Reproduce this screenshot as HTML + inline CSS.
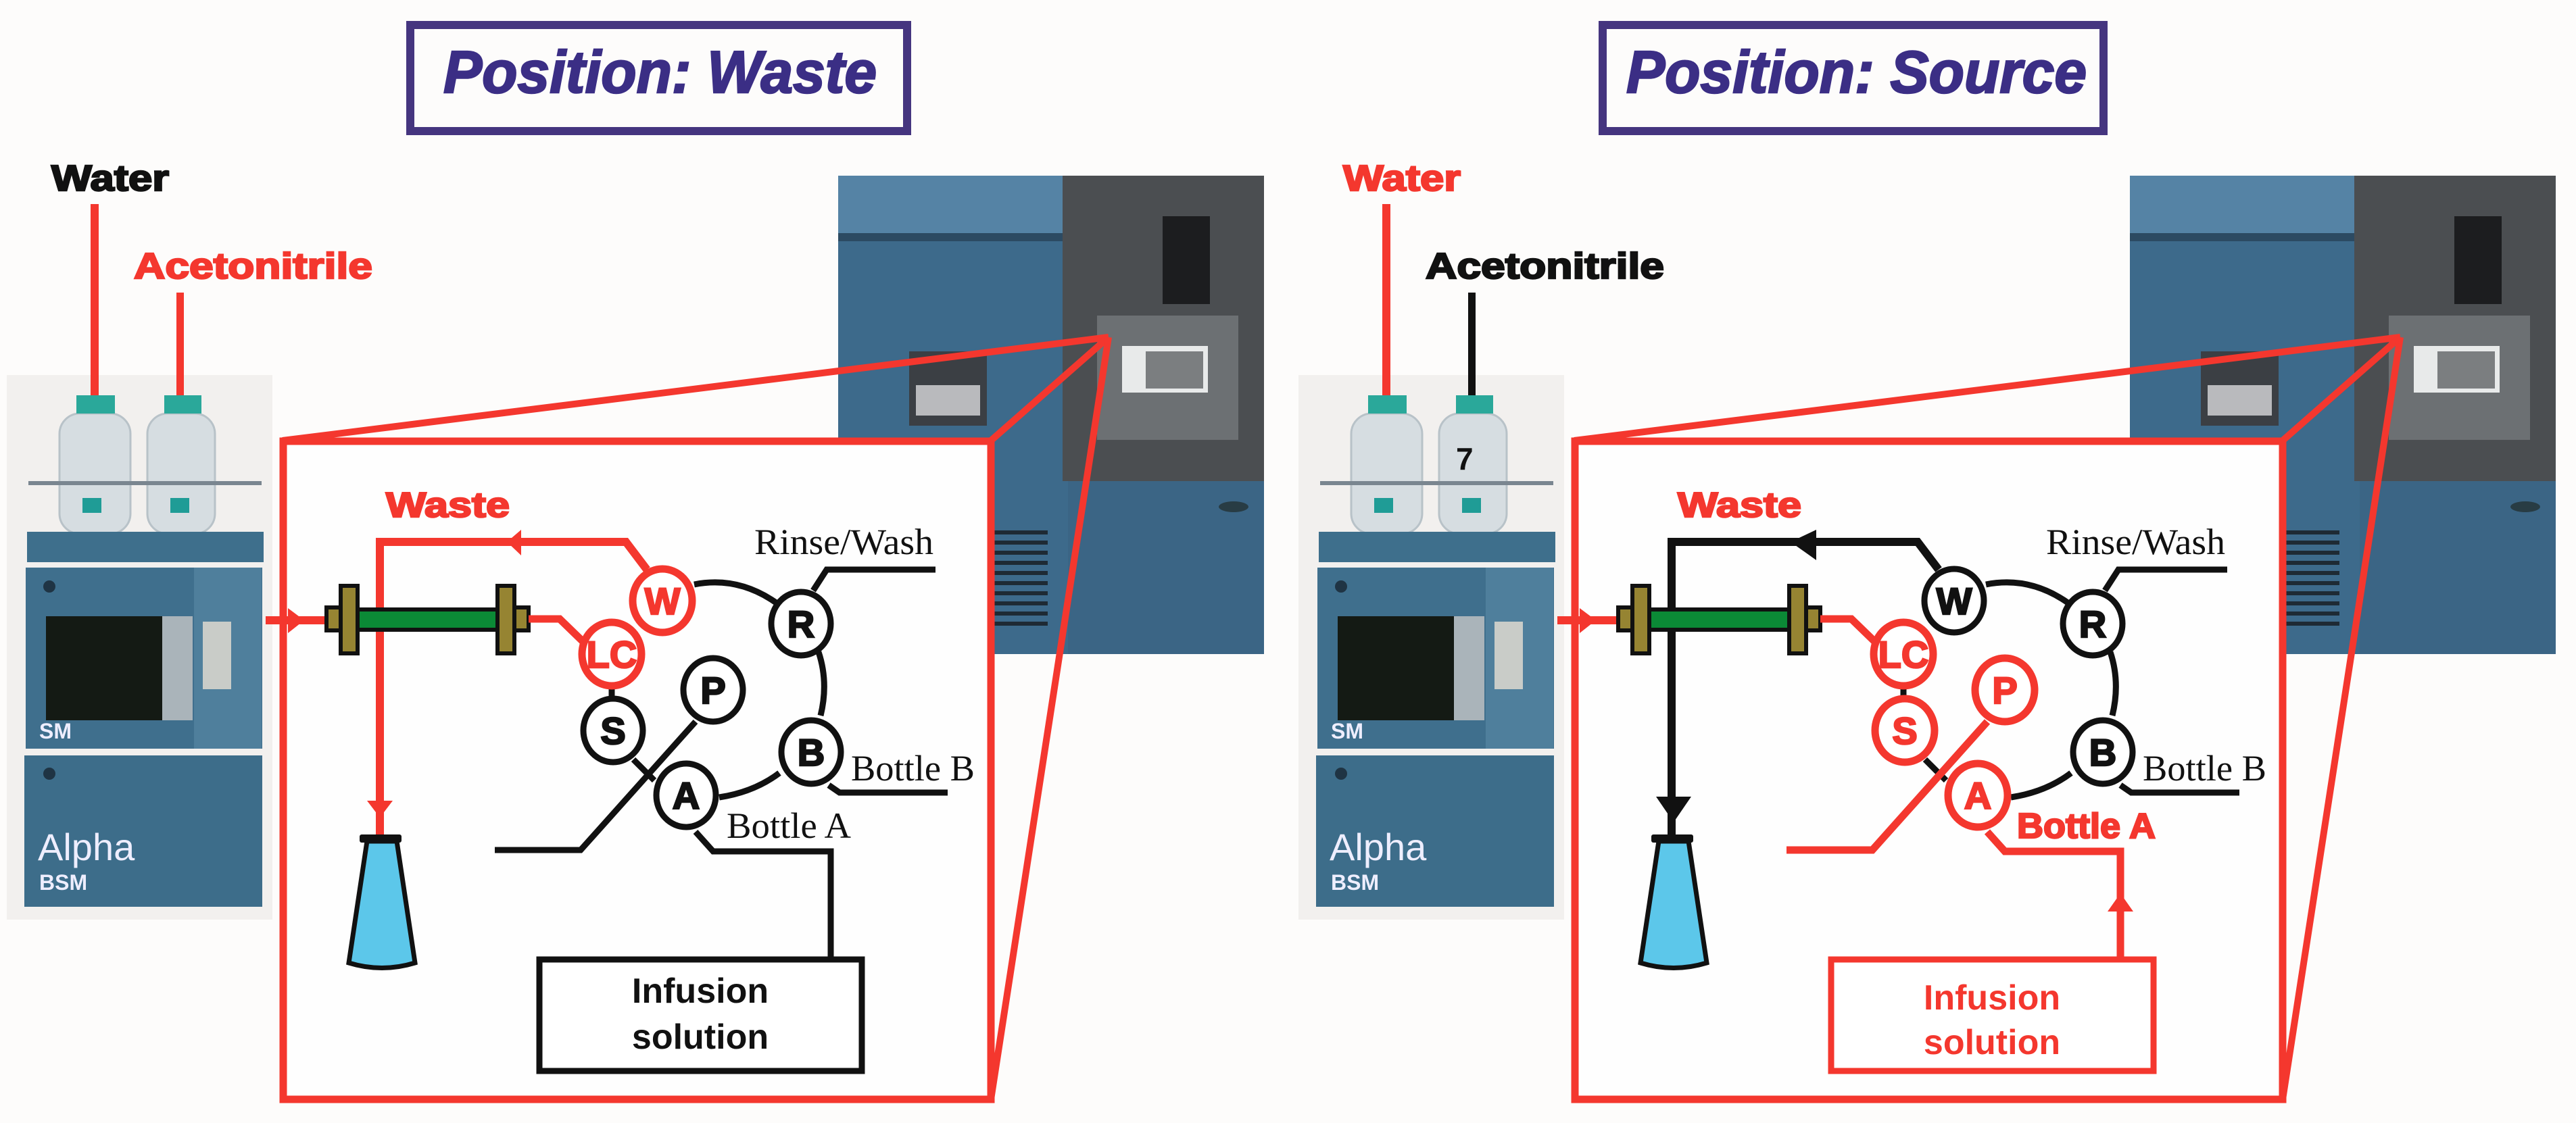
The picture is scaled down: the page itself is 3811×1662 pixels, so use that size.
<!DOCTYPE html>
<html><head><meta charset="utf-8"><style>
html,body{margin:0;padding:0;background:#fdfcfb;}
svg{display:block;}
.sb{font-family:"Liberation Sans",sans-serif;font-weight:bold;}
.sf{font-family:"Liberation Serif",serif;}
.hv{stroke-width:2.5;paint-order:stroke;}
</style></head><body>
<svg width="3811" height="1662" viewBox="0 0 3811 1662" xmlns="http://www.w3.org/2000/svg">
<defs>
<g id="lcphoto">
  <rect x="10" y="555" width="393" height="806" fill="#f2f0ee"/>
  <rect x="88" y="612" width="105" height="178" rx="30" fill="#d6dde1" stroke="#b8c2c8" stroke-width="3"/>
  <rect x="218" y="612" width="100" height="178" rx="30" fill="#d6dde1" stroke="#b8c2c8" stroke-width="3"/>
  <rect x="113" y="585" width="57" height="27" fill="#2aa89a"/>
  <rect x="243" y="585" width="55" height="27" fill="#2aa89a"/>
  <rect x="122" y="737" width="28" height="22" fill="#1f9c96"/>
  <rect x="252" y="737" width="28" height="22" fill="#1f9c96"/>
  <rect x="42" y="712" width="345" height="6" fill="#7a8690"/>
  <rect x="40" y="787" width="350" height="45" fill="#3e6f8c"/>
  <rect x="38" y="840" width="350" height="268" fill="#3f6f8d"/>
  <rect x="68" y="912" width="172" height="154" fill="#141a14"/>
  <rect x="240" y="912" width="45" height="154" fill="#aab4ba"/>
  <rect x="287" y="840" width="100" height="268" fill="#4f7f9c"/>
  <rect x="300" y="920" width="42" height="100" fill="#c9ccc8"/>
  <circle cx="73" cy="868" r="9" fill="#1f3444"/>
  <text x="58" y="1093" class="sb" font-size="32" fill="#eef">SM</text>
  <rect x="36" y="1118" width="352" height="224" fill="#3d6d8a"/>
  <circle cx="73" cy="1145" r="9" fill="#1f3444"/>
  <text x="56" y="1273" font-family="Liberation Sans, sans-serif" font-size="56" fill="#eef">Alpha</text>
  <text x="58" y="1317" class="sb" font-size="32" fill="#eef">BSM</text>
</g>
<g id="msphoto">
  <rect x="1240" y="260" width="630" height="708" fill="#3d6a8b"/>
  <rect x="1240" y="260" width="332" height="85" fill="#5583a5"/>
  <rect x="1240" y="345" width="332" height="12" fill="#2c4a62"/>
  <rect x="1572" y="260" width="298" height="452" fill="#4b4e51"/>
  <rect x="1720" y="320" width="70" height="130" fill="#1c1d1f"/>
  <rect x="1623" y="467" width="209" height="184" fill="#6c7073"/>
  <rect x="1660" y="512" width="127" height="69" fill="#e8eaea"/>
  <rect x="1695" y="520" width="85" height="55" fill="#7b7e80"/>
  <rect x="1345" y="520" width="115" height="110" fill="#3b3f44"/>
  <rect x="1355" y="570" width="95" height="45" fill="#b9babd"/>
  <g fill="#1e2a34"><rect x="1467" y="785" width="83" height="6"/><rect x="1467" y="800" width="83" height="6"/><rect x="1467" y="815" width="83" height="6"/><rect x="1467" y="830" width="83" height="6"/><rect x="1467" y="845" width="83" height="6"/><rect x="1467" y="860" width="83" height="6"/><rect x="1467" y="875" width="83" height="6"/><rect x="1467" y="890" width="83" height="6"/><rect x="1467" y="905" width="83" height="6"/><rect x="1467" y="920" width="83" height="6"/></g>
  <rect x="1580" y="712" width="290" height="256" fill="#3b6585"/>
  <ellipse cx="1825" cy="750" rx="22" ry="8" fill="#283c44"/>
</g>
<g id="column">
  <rect x="529" y="902" width="207" height="30" fill="#0b8a36" stroke="#111" stroke-width="6"/>
  <rect x="483" y="899" width="21" height="34" fill="#968432" stroke="#111" stroke-width="6"/>
  <rect x="504" y="867" width="25" height="100" fill="#968432" stroke="#111" stroke-width="6"/>
  <rect x="736" y="867" width="25" height="100" fill="#968432" stroke="#111" stroke-width="6"/>
  <rect x="761" y="899" width="21" height="34" fill="#968432" stroke="#111" stroke-width="6"/>
</g>
<g id="flask">
  <path d="M543 1245 L587 1245 L614 1425 Q565 1440 516 1425 Z" fill="#5cc7ea" stroke="#111" stroke-width="7"/>
  <rect x="532" y="1235" width="62" height="12" rx="3" fill="#111"/>
</g>
</defs>

<!-- ============ LEFT PANEL ============ -->
<rect x="607" y="37" width="735" height="157" fill="none" stroke="#45357f" stroke-width="12"/>
<text x="656" y="137" class="sb hv" font-style="italic" font-size="88" fill="#3b2e85" stroke="#3b2e85" textLength="641" lengthAdjust="spacingAndGlyphs">Position: Waste</text>
<text x="76" y="282" class="sb hv" font-size="54" fill="#111" stroke="#111" textLength="174" lengthAdjust="spacingAndGlyphs">Water</text>
<text x="198" y="412" class="sb hv" font-size="54" fill="#f4372e" stroke="#f4372e" textLength="353" lengthAdjust="spacingAndGlyphs">Acetonitrile</text>
<use href="#lcphoto"/>
<rect x="134" y="302" width="12" height="283" fill="#f4372e"/>
<rect x="261" y="433" width="11" height="152" fill="#f4372e"/>
<use href="#msphoto"/>
<g stroke="#f4372e" stroke-width="10" fill="none">
  <line x1="418" y1="652" x2="1640" y2="499"/>
  <line x1="1466" y1="652" x2="1640" y2="499"/>
  <line x1="1466" y1="1627" x2="1640" y2="499"/>
</g>
<rect x="419" y="653" width="1047" height="974" fill="#fefefe" stroke="#f4372e" stroke-width="11"/>
<line x1="393" y1="918" x2="483" y2="918" stroke="#f4372e" stroke-width="12"/>
<polygon points="426,900 450,918 426,937" fill="#f4372e"/>
<g stroke="#f4372e" stroke-width="12" fill="none">
  <polyline points="957,843 926,802 562,802 562,1190"/>
  <line x1="562" y1="1200" x2="562" y2="1236"/>
</g>
<polygon points="750,802 771,784 771,822" fill="#f4372e"/>
<polygon points="543,1185 581,1185 562,1210" fill="#f4372e"/>
<use href="#column"/>
<use href="#flask"/>
<text x="571" y="765" class="sb hv" font-size="52" fill="#f4372e" stroke="#f4372e" textLength="183" lengthAdjust="spacingAndGlyphs">Waste</text>
<polyline points="782,916 828,916 862,949" fill="none" stroke="#f4372e" stroke-width="11"/>
<g stroke="#111" stroke-width="9" fill="none">
  <path d="M1027 865 Q1093 852 1151 894"/>
  <path d="M1211 965 Q1226 1010 1214 1059"/>
  <path d="M1153 1144 Q1116 1172 1064 1180"/>
  <polyline points="1203,874 1223,843 1384,843"/>
  <polyline points="1226,1162 1242,1173 1402,1173"/>
  <polyline points="1029,1231 1055,1260 1229,1260 1229,1416"/>
  <polyline points="1029,1068 859,1258 732,1258"/>
  <line x1="937" y1="1124" x2="968" y2="1155"/>
  <line x1="905" y1="1012" x2="905" y2="1032"/>
</g>
<g stroke-width="9" fill="#fff">
  <ellipse cx="980" cy="889" rx="44" ry="47" stroke="#f4372e" stroke-width="11"/>
  <ellipse cx="905" cy="968" rx="44" ry="47" stroke="#f4372e" stroke-width="11"/>
  <ellipse cx="1185" cy="923" rx="44" ry="47" stroke="#111"/>
  <ellipse cx="1055" cy="1021" rx="44" ry="47" stroke="#111"/>
  <ellipse cx="907" cy="1081" rx="44" ry="47" stroke="#111"/>
  <ellipse cx="1200" cy="1113" rx="44" ry="47" stroke="#111"/>
  <ellipse cx="1015" cy="1177" rx="44" ry="47" stroke="#111"/>
</g>
<g class="sb hv" font-size="56" text-anchor="middle">
  <text x="980" y="909" fill="#f4372e" stroke="#f4372e">W</text>
  <text x="905" y="988" fill="#f4372e" stroke="#f4372e">LC</text>
  <text x="1185" y="943" fill="#111" stroke="#111">R</text>
  <text x="1055" y="1041" fill="#111" stroke="#111">P</text>
  <text x="907" y="1101" fill="#111" stroke="#111">S</text>
  <text x="1200" y="1133" fill="#111" stroke="#111">B</text>
  <text x="1015" y="1197" fill="#111" stroke="#111">A</text>
</g>
<text x="1116" y="820" class="sf" font-size="54" fill="#111" textLength="265" lengthAdjust="spacingAndGlyphs">Rinse/Wash</text>
<text x="1259" y="1155" class="sf" font-size="54" fill="#111" textLength="183" lengthAdjust="spacingAndGlyphs">Bottle B</text>
<text x="1075" y="1240" class="sf" font-size="54" fill="#111" textLength="184" lengthAdjust="spacingAndGlyphs">Bottle A</text>
<rect x="798" y="1420" width="477" height="165" fill="#fff" stroke="#111" stroke-width="9"/>
<text x="1036" y="1484" class="sb" font-size="52" fill="#111" text-anchor="middle">Infusion</text>
<text x="1036" y="1552" class="sb" font-size="52" fill="#111" text-anchor="middle">solution</text>

<!-- ============ RIGHT PANEL ============ -->
<rect x="2371" y="37" width="741" height="157" fill="none" stroke="#45357f" stroke-width="12"/>
<text x="2406" y="137" class="sb hv" font-style="italic" font-size="88" fill="#3b2e85" stroke="#3b2e85" textLength="681" lengthAdjust="spacingAndGlyphs">Position: Source</text>
<g transform="translate(1911,0)">
<text x="76" y="282" class="sb hv" font-size="54" fill="#f4372e" stroke="#f4372e" textLength="174" lengthAdjust="spacingAndGlyphs">Water</text>
<text x="198" y="412" class="sb hv" font-size="54" fill="#111" stroke="#111" textLength="353" lengthAdjust="spacingAndGlyphs">Acetonitrile</text>
<use href="#lcphoto"/>
<text x="243" y="695" class="sb" font-size="46" fill="#111">7</text>
<rect x="134" y="302" width="12" height="283" fill="#f4372e"/>
<rect x="261" y="433" width="11" height="152" fill="#111"/>
<use href="#msphoto"/>
<g stroke="#f4372e" stroke-width="10" fill="none">
  <line x1="418" y1="652" x2="1640" y2="499"/>
  <line x1="1466" y1="652" x2="1640" y2="499"/>
  <line x1="1466" y1="1627" x2="1640" y2="499"/>
</g>
<rect x="419" y="653" width="1047" height="974" fill="#fefefe" stroke="#f4372e" stroke-width="11"/>
<line x1="393" y1="918" x2="483" y2="918" stroke="#f4372e" stroke-width="12"/>
<polygon points="426,900 450,918 426,937" fill="#f4372e"/>
<g stroke="#111" stroke-width="12" fill="none">
  <polyline points="957,843 926,802 562,802 562,1190"/>
  <line x1="562" y1="1200" x2="562" y2="1236"/>
</g>
<polygon points="738,802 776,784 776,829" fill="#111"/>
<polygon points="539,1179 591,1179 565,1217" fill="#111"/>
<use href="#column"/>
<use href="#flask"/>
<text x="571" y="765" class="sb hv" font-size="52" fill="#f4372e" stroke="#f4372e" textLength="183" lengthAdjust="spacingAndGlyphs">Waste</text>
<polyline points="782,916 828,916 862,949" fill="none" stroke="#f4372e" stroke-width="11"/>
<g stroke="#111" stroke-width="9" fill="none">
  <path d="M1027 865 Q1093 852 1151 894"/>
  <path d="M1211 965 Q1226 1010 1214 1059"/>
  <path d="M1153 1144 Q1116 1172 1064 1180"/>
  <polyline points="1203,874 1223,843 1384,843"/>
  <polyline points="1226,1162 1242,1173 1402,1173"/>
  <line x1="937" y1="1124" x2="968" y2="1155"/>
  <line x1="905" y1="1012" x2="905" y2="1032"/>
</g>
<g stroke="#f4372e" stroke-width="11" fill="none">
  <polyline points="1029,1231 1055,1260 1226,1260 1226,1345"/>
  <line x1="1226" y1="1345" x2="1226" y2="1416"/>
  <polyline points="1029,1068 859,1258 732,1258"/>
</g>
<polygon points="1207,1349 1245,1349 1226,1322" fill="#f4372e"/>
<g stroke-width="11" fill="#fff" stroke="#f4372e">
  <ellipse cx="980" cy="889" rx="44" ry="47" stroke="#111" stroke-width="9"/>
  <ellipse cx="905" cy="968" rx="44" ry="47"/>
  <ellipse cx="1185" cy="923" rx="44" ry="47" stroke="#111" stroke-width="9"/>
  <ellipse cx="1055" cy="1021" rx="44" ry="47"/>
  <ellipse cx="907" cy="1081" rx="44" ry="47"/>
  <ellipse cx="1200" cy="1113" rx="44" ry="47" stroke="#111" stroke-width="9"/>
  <ellipse cx="1015" cy="1177" rx="44" ry="47"/>
</g>
<g class="sb hv" font-size="56" text-anchor="middle">
  <text x="980" y="909" fill="#111" stroke="#111">W</text>
  <text x="905" y="988" fill="#f4372e" stroke="#f4372e">LC</text>
  <text x="1185" y="943" fill="#111" stroke="#111">R</text>
  <text x="1055" y="1041" fill="#f4372e" stroke="#f4372e">P</text>
  <text x="907" y="1101" fill="#f4372e" stroke="#f4372e">S</text>
  <text x="1200" y="1133" fill="#111" stroke="#111">B</text>
  <text x="1015" y="1197" fill="#f4372e" stroke="#f4372e">A</text>
</g>
<text x="1116" y="820" class="sf" font-size="54" fill="#111" textLength="265" lengthAdjust="spacingAndGlyphs">Rinse/Wash</text>
<text x="1259" y="1155" class="sf" font-size="54" fill="#111" textLength="183" lengthAdjust="spacingAndGlyphs">Bottle B</text>
<text x="1073" y="1240" class="sb hv" font-size="52" fill="#f4372e" stroke="#f4372e" textLength="205" lengthAdjust="spacingAndGlyphs">Bottle A</text>
<rect x="798" y="1420" width="477" height="165" fill="#fff" stroke="#f4372e" stroke-width="9"/>
<text x="1036" y="1494" class="sb" font-size="52" fill="#f4372e" text-anchor="middle">Infusion</text>
<text x="1036" y="1560" class="sb" font-size="52" fill="#f4372e" text-anchor="middle">solution</text>
</g>
</svg>
</body></html>
